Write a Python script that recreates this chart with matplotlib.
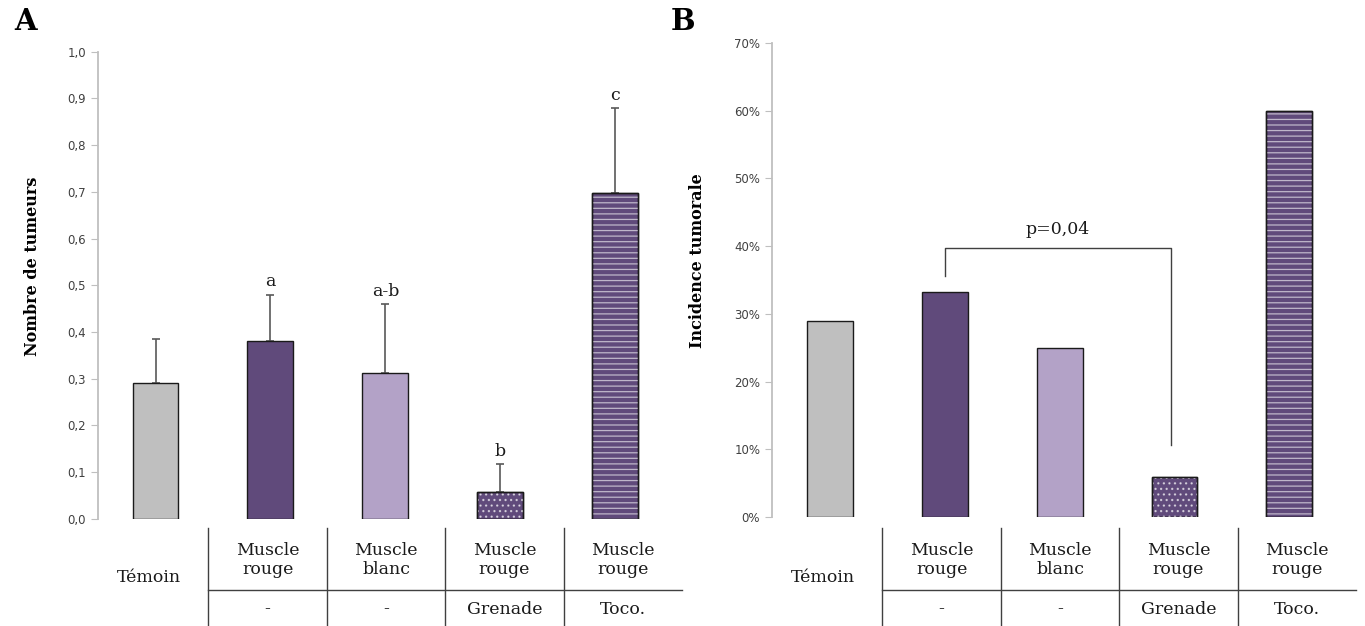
import numpy as np
import matplotlib
matplotlib.use("Agg")
import matplotlib.pyplot as plt
from matplotlib.ticker import FuncFormatter, PercentFormatter
from matplotlib.transforms import blended_transform_factory

# -----------------------------
# Data
# -----------------------------
groups = ["Témoin", "Muscle\nrouge", "Muscle\nblanc", "Muscle\nrouge", "Muscle\nrouge"]
treatments = ["", "-", "-", "Grenade", "Toco."]

tumeurs = [0.291, 0.380, 0.313, 0.058, 0.697]
tumeurs_err = [0.094, 0.100, 0.147, 0.059, 0.183]
letters = ["", "a", "a-b", "b", "c"]

incidence = [0.290, 0.333, 0.250, 0.059, 0.600]
p_label = "p=0,04"

# -----------------------------
# Styles
# -----------------------------
colors = ["#BFBFBF", "#604A7B", "#B3A2C7", "#604A7B", "#604A7B"]
hatches = [None, None, None, "...", "---"]
serif = "DejaVu Serif"
plt.rcParams["hatch.linewidth"] = 0.9

fig = plt.figure(figsize=(13.65, 6.26), dpi=100)
axA = fig.add_axes([0.0718, 0.1714, 0.4212, 0.7460])
axB = fig.add_axes([0.5656, 0.1741, 0.4212, 0.7572])

x = np.arange(len(groups))


def draw_bars(ax, values):
    ax.bar(x, values, width=0.4, color=colors, edgecolor="#1a1a1a", linewidth=1, zorder=2)
    for xi, v, h in zip(x, values, hatches):
        if h:
            ax.bar(xi, v, width=0.4, fill=False, hatch=h,
                   edgecolor=(1, 1, 1, 0.6), linewidth=0, zorder=3)
            ax.bar(xi, v, width=0.4, fill=False, edgecolor="#1a1a1a", linewidth=1, zorder=4)


def style_axis(ax):
    for s in ["top", "right", "bottom"]:
        ax.spines[s].set_visible(False)
    ax.spines["left"].set_color("#BFBFBF")
    ax.spines["left"].set_linewidth(1.3)
    ax.tick_params(axis="y", colors="#BFBFBF", labelcolor="#404040", labelsize=8.5,
                   length=5, direction="out")
    ax.set_xticks([])
    ax.set_xlim(-0.5, 4.5)


def draw_table(ax):
    tr = blended_transform_factory(ax.transData, fig.transFigure)
    fy = lambda py: 1 - py / 626.0
    vlines = [0.46, 1.49, 2.52, 3.55]
    for vx in vlines:
        ax.plot([vx, vx], [fy(528), fy(626)], color="#404040", lw=1, transform=tr, clip_on=False)
    ax.plot([0.46, 4.58], [fy(590), fy(590)], color="#404040", lw=1, transform=tr, clip_on=False)
    bounds = vlines + [4.58]
    ax.text(-0.06, fy(577), groups[0], transform=tr, ha="center", va="center",
            fontsize=12.5, family=serif, color="#1a1a1a")
    for i in range(1, len(groups)):
        cx = (bounds[i - 1] + bounds[i]) / 2
        ax.text(cx, fy(560), groups[i], transform=tr, ha="center", va="center",
                fontsize=12.5, family=serif, color="#1a1a1a", linespacing=1.15)
        ax.text(cx, fy(609), treatments[i], transform=tr, ha="center", va="center",
                fontsize=12.5, family=serif, color="#1a1a1a")


# -----------------------------
# Panel A
# -----------------------------
draw_bars(axA, tumeurs)
axA.errorbar(x, tumeurs, yerr=[np.zeros(len(x)), tumeurs_err], fmt="none",
             ecolor="#595959", elinewidth=1.2, capsize=3, capthick=1.2, zorder=1.5)
for xi, v, e, l in zip(x, tumeurs, tumeurs_err, letters):
    if l:
        axA.annotate(l, (xi, v + e), xytext=(0, 3), textcoords="offset points",
                     ha="center", va="bottom", fontsize=12.5, family=serif, color="#1a1a1a")
axA.set_ylim(0, 1.0)
axA.set_yticks(np.arange(0, 1.01, 0.1))
axA.yaxis.set_major_formatter(FuncFormatter(lambda v, p: f"{v:.1f}".replace(".", ",")))
style_axis(axA)
axA.set_ylabel("Nombre de tumeurs", family=serif, fontweight="bold", fontsize=11.5)
axA.yaxis.set_label_coords(-0.10, 0.54)
draw_table(axA)

# -----------------------------
# Panel B
# -----------------------------
draw_bars(axB, incidence)
axB.set_ylim(0, 0.70)
axB.set_yticks(np.arange(0, 0.701, 0.1))
axB.yaxis.set_major_formatter(PercentFormatter(1.0, decimals=0))
style_axis(axB)
axB.set_ylabel("Incidence tumorale", family=serif, fontweight="bold", fontsize=11.5)
axB.yaxis.set_label_coords(-0.115, 0.54)
draw_table(axB)

# significance bracket
axB.plot([1, 1, 2.97, 2.97], [0.356, 0.397, 0.397, 0.107], color="#404040", lw=1, zorder=5)
axB.text(1.98, 0.424, p_label, ha="center", va="center", fontsize=12.5, family=serif,
         color="#1a1a1a")

# panel letters
fig.text(14 / 1365, 1 - 22 / 626, "A", fontsize=21, fontweight="bold", family=serif,
         ha="left", va="center")
fig.text(671 / 1365, 1 - 22 / 626, "B", fontsize=21, fontweight="bold", family=serif,
         ha="left", va="center")

fig.savefig("out.png", dpi=100)
